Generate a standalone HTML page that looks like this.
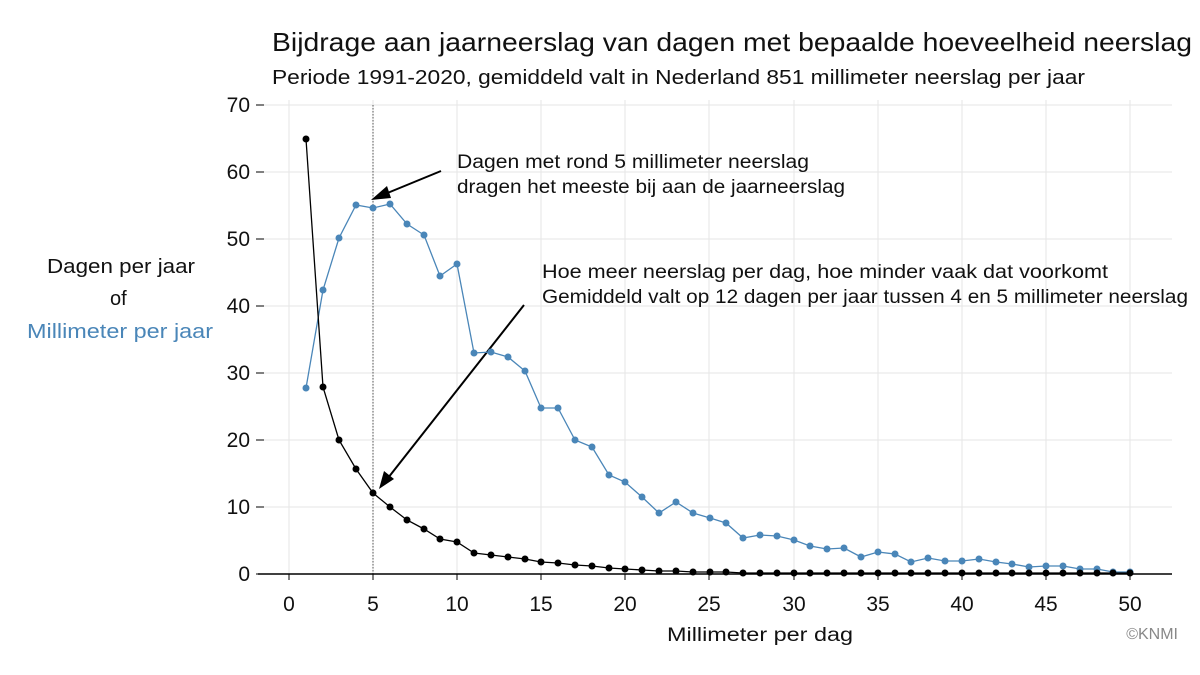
<!DOCTYPE html><html><head><meta charset="utf-8"><style>body{margin:0;background:#fff}svg{display:block;font-family:"Liberation Sans",sans-serif}</style></head><body>
<svg width="1200" height="675" viewBox="0 0 1200 675">
<g stroke="#e6e6e6" stroke-width="1">
<line x1="262" x2="1172" y1="105" y2="105"/><line x1="262" x2="1172" y1="172" y2="172"/><line x1="262" x2="1172" y1="239" y2="239"/><line x1="262" x2="1172" y1="306" y2="306"/><line x1="262" x2="1172" y1="373" y2="373"/><line x1="262" x2="1172" y1="440" y2="440"/><line x1="262" x2="1172" y1="507" y2="507"/>
<line x1="289" x2="289" y1="100" y2="574"/><line x1="373" x2="373" y1="100" y2="574"/><line x1="457" x2="457" y1="100" y2="574"/><line x1="541" x2="541" y1="100" y2="574"/><line x1="625" x2="625" y1="100" y2="574"/><line x1="709" x2="709" y1="100" y2="574"/><line x1="794" x2="794" y1="100" y2="574"/><line x1="878" x2="878" y1="100" y2="574"/><line x1="962" x2="962" y1="100" y2="574"/><line x1="1046" x2="1046" y1="100" y2="574"/><line x1="1130" x2="1130" y1="100" y2="574"/>
</g>
<line x1="373" x2="373" y1="105" y2="574" stroke="#555" stroke-dasharray="1.5,1.5"/>
<line x1="258" x2="1172" y1="574" y2="574" stroke="#000" stroke-width="1.5"/>
<g stroke="#000"><line x1="289" x2="289" y1="574" y2="580"/><line x1="373" x2="373" y1="574" y2="580"/><line x1="457" x2="457" y1="574" y2="580"/><line x1="541" x2="541" y1="574" y2="580"/><line x1="625" x2="625" y1="574" y2="580"/><line x1="709" x2="709" y1="574" y2="580"/><line x1="794" x2="794" y1="574" y2="580"/><line x1="878" x2="878" y1="574" y2="580"/><line x1="962" x2="962" y1="574" y2="580"/><line x1="1046" x2="1046" y1="574" y2="580"/><line x1="1130" x2="1130" y1="574" y2="580"/>
<line x1="256" x2="264" y1="105" y2="105"/><line x1="256" x2="264" y1="172" y2="172"/><line x1="256" x2="264" y1="239" y2="239"/><line x1="256" x2="264" y1="306" y2="306"/><line x1="256" x2="264" y1="373" y2="373"/><line x1="256" x2="264" y1="440" y2="440"/><line x1="256" x2="264" y1="507" y2="507"/><line x1="256" x2="264" y1="574" y2="574"/></g>
<g font-size="21" text-anchor="end" fill="#111"><text x="250" y="112">70</text><text x="250" y="179">60</text><text x="250" y="246">50</text><text x="250" y="313">40</text><text x="250" y="380">30</text><text x="250" y="447">20</text><text x="250" y="514">10</text><text x="250" y="581">0</text></g>
<g font-size="21" text-anchor="middle" fill="#111"><text x="289" y="611">0</text><text x="373" y="611">5</text><text x="457" y="611">10</text><text x="541" y="611">15</text><text x="625" y="611">20</text><text x="709" y="611">25</text><text x="794" y="611">30</text><text x="878" y="611">35</text><text x="962" y="611">40</text><text x="1046" y="611">45</text><text x="1130" y="611">50</text></g>
<text x="667" y="641" font-size="19" fill="#111" textLength="186" lengthAdjust="spacingAndGlyphs">Millimeter per dag</text>
<text x="1178" y="639" font-size="16" text-anchor="end" fill="#888">©KNMI</text>
<text x="272" y="51" font-size="26" fill="#111" textLength="920" lengthAdjust="spacingAndGlyphs">Bijdrage aan jaarneerslag van dagen met bepaalde hoeveelheid neerslag</text>
<text x="272" y="84" font-size="20" fill="#111" textLength="813" lengthAdjust="spacingAndGlyphs">Periode 1991-2020, gemiddeld valt in Nederland 851 millimeter neerslag per jaar</text>
<g font-size="20"><text x="47" y="273" fill="#111" textLength="148" lengthAdjust="spacingAndGlyphs">Dagen per jaar</text><text x="110" y="305" fill="#111">of</text><text x="27" y="338" fill="#4a86b8" textLength="186" lengthAdjust="spacingAndGlyphs">Millimeter per jaar</text></g>
<g font-size="19" fill="#111"><text x="457" y="168" textLength="352" lengthAdjust="spacingAndGlyphs">Dagen met rond 5 millimeter neerslag</text><text x="457" y="193" textLength="388" lengthAdjust="spacingAndGlyphs">dragen het meeste bij aan de jaarneerslag</text><text x="542" y="278" textLength="566" lengthAdjust="spacingAndGlyphs">Hoe meer neerslag per dag, hoe minder vaak dat voorkomt</text><text x="542" y="303" textLength="646" lengthAdjust="spacingAndGlyphs">Gemiddeld valt op 12 dagen per jaar tussen 4 en 5 millimeter neerslag</text></g>
<g stroke="#000" stroke-width="2"><line x1="441" y1="171" x2="385" y2="194"/><line x1="524" y1="305" x2="388" y2="478"/></g>
<polygon points="371,200 387,186 391,198" fill="#000"/><polygon points="379,489 384,471 394,479" fill="#000"/>
<polyline fill="none" stroke="#4a86b8" stroke-width="1.3" points="306,388 323,290 339,238 356,205 373,208 390,204 407,224 424,235 440,276 457,264 474,353 491,352 508,357 525,371 541,408 558,408 575,440 592,447 609,475 625,482 642,497 659,513 676,502 693,513 710,518 726,523 743,538 760,535 777,536 794,540 810,546 827,549 844,548 861,557 878,552 895,554 911,562 928,558 945,561 962,561 979,559 996,562 1012,564 1029,567 1046,566 1063,566 1080,569 1097,569 1113,572 1130,572"/>
<polyline fill="none" stroke="#000" stroke-width="1.3" points="306,139 323,387 339,440 356,469 373,493 390,507 407,520 424,529 440,539 457,542 474,553 491,555 508,557 525,559 541,562 558,563 575,565 592,566 609,568 625,569 642,570 659,571 676,571 693,572 710,572 726,572 743,573 760,573 777,573 794,573 810,573 827,573 844,573 861,573 878,573 895,573 911,573 928,573 945,573 962,573 979,573 996,573 1012,573 1029,573 1046,573 1063,573 1080,573 1097,573 1113,573 1130,573"/>
<g fill="#4a86b8"><circle cx="306" cy="388" r="3.5"/><circle cx="323" cy="290" r="3.5"/><circle cx="339" cy="238" r="3.5"/><circle cx="356" cy="205" r="3.5"/><circle cx="373" cy="208" r="3.5"/><circle cx="390" cy="204" r="3.5"/><circle cx="407" cy="224" r="3.5"/><circle cx="424" cy="235" r="3.5"/><circle cx="440" cy="276" r="3.5"/><circle cx="457" cy="264" r="3.5"/><circle cx="474" cy="353" r="3.5"/><circle cx="491" cy="352" r="3.5"/><circle cx="508" cy="357" r="3.5"/><circle cx="525" cy="371" r="3.5"/><circle cx="541" cy="408" r="3.5"/><circle cx="558" cy="408" r="3.5"/><circle cx="575" cy="440" r="3.5"/><circle cx="592" cy="447" r="3.5"/><circle cx="609" cy="475" r="3.5"/><circle cx="625" cy="482" r="3.5"/><circle cx="642" cy="497" r="3.5"/><circle cx="659" cy="513" r="3.5"/><circle cx="676" cy="502" r="3.5"/><circle cx="693" cy="513" r="3.5"/><circle cx="710" cy="518" r="3.5"/><circle cx="726" cy="523" r="3.5"/><circle cx="743" cy="538" r="3.5"/><circle cx="760" cy="535" r="3.5"/><circle cx="777" cy="536" r="3.5"/><circle cx="794" cy="540" r="3.5"/><circle cx="810" cy="546" r="3.5"/><circle cx="827" cy="549" r="3.5"/><circle cx="844" cy="548" r="3.5"/><circle cx="861" cy="557" r="3.5"/><circle cx="878" cy="552" r="3.5"/><circle cx="895" cy="554" r="3.5"/><circle cx="911" cy="562" r="3.5"/><circle cx="928" cy="558" r="3.5"/><circle cx="945" cy="561" r="3.5"/><circle cx="962" cy="561" r="3.5"/><circle cx="979" cy="559" r="3.5"/><circle cx="996" cy="562" r="3.5"/><circle cx="1012" cy="564" r="3.5"/><circle cx="1029" cy="567" r="3.5"/><circle cx="1046" cy="566" r="3.5"/><circle cx="1063" cy="566" r="3.5"/><circle cx="1080" cy="569" r="3.5"/><circle cx="1097" cy="569" r="3.5"/><circle cx="1113" cy="572" r="3.5"/><circle cx="1130" cy="572" r="3.5"/></g>
<g fill="#000"><circle cx="306" cy="139" r="3.5"/><circle cx="323" cy="387" r="3.5"/><circle cx="339" cy="440" r="3.5"/><circle cx="356" cy="469" r="3.5"/><circle cx="373" cy="493" r="3.5"/><circle cx="390" cy="507" r="3.5"/><circle cx="407" cy="520" r="3.5"/><circle cx="424" cy="529" r="3.5"/><circle cx="440" cy="539" r="3.5"/><circle cx="457" cy="542" r="3.5"/><circle cx="474" cy="553" r="3.5"/><circle cx="491" cy="555" r="3.5"/><circle cx="508" cy="557" r="3.5"/><circle cx="525" cy="559" r="3.5"/><circle cx="541" cy="562" r="3.5"/><circle cx="558" cy="563" r="3.5"/><circle cx="575" cy="565" r="3.5"/><circle cx="592" cy="566" r="3.5"/><circle cx="609" cy="568" r="3.5"/><circle cx="625" cy="569" r="3.5"/><circle cx="642" cy="570" r="3.5"/><circle cx="659" cy="571" r="3.5"/><circle cx="676" cy="571" r="3.5"/><circle cx="693" cy="572" r="3.5"/><circle cx="710" cy="572" r="3.5"/><circle cx="726" cy="572" r="3.5"/><circle cx="743" cy="573" r="3.5"/><circle cx="760" cy="573" r="3.5"/><circle cx="777" cy="573" r="3.5"/><circle cx="794" cy="573" r="3.5"/><circle cx="810" cy="573" r="3.5"/><circle cx="827" cy="573" r="3.5"/><circle cx="844" cy="573" r="3.5"/><circle cx="861" cy="573" r="3.5"/><circle cx="878" cy="573" r="3.5"/><circle cx="895" cy="573" r="3.5"/><circle cx="911" cy="573" r="3.5"/><circle cx="928" cy="573" r="3.5"/><circle cx="945" cy="573" r="3.5"/><circle cx="962" cy="573" r="3.5"/><circle cx="979" cy="573" r="3.5"/><circle cx="996" cy="573" r="3.5"/><circle cx="1012" cy="573" r="3.5"/><circle cx="1029" cy="573" r="3.5"/><circle cx="1046" cy="573" r="3.5"/><circle cx="1063" cy="573" r="3.5"/><circle cx="1080" cy="573" r="3.5"/><circle cx="1097" cy="573" r="3.5"/><circle cx="1113" cy="573" r="3.5"/><circle cx="1130" cy="573" r="3.5"/></g>
</svg></body></html>
